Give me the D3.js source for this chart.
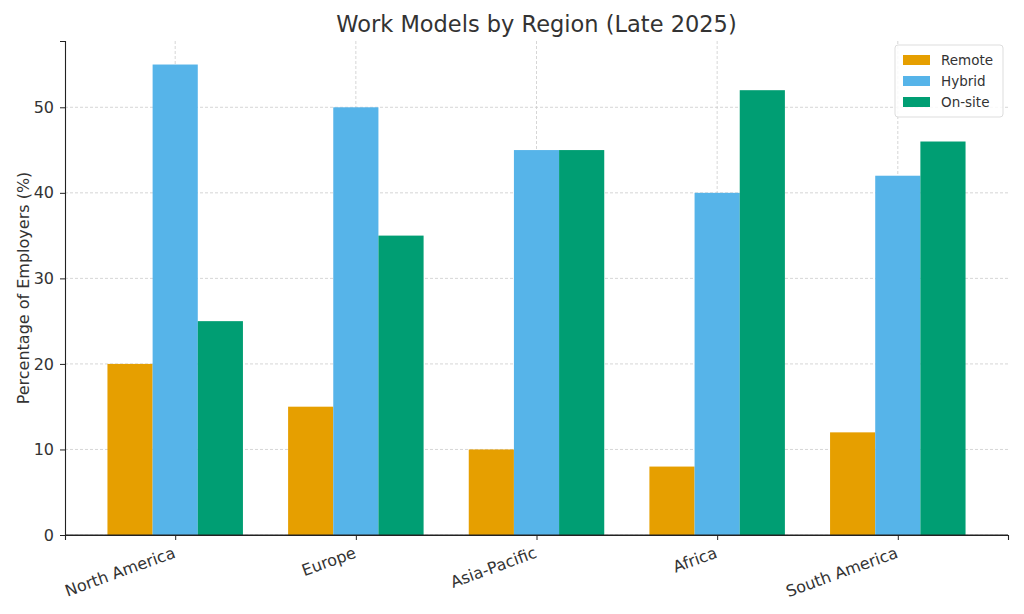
<!DOCTYPE html>
<html><head><meta charset="utf-8">
<script src="https://cdn.jsdelivr.net/npm/d3@7"></script>
<style>body{margin:0;background:#fff}text{font-family:"DejaVu Sans",sans-serif}</style>
</head><body><div id="vis"></div>
<script>
const regions = ["North America", "Europe", "Asia-Pacific", "Africa", "South America"];
const seriesNames = ["Remote", "Hybrid", "On-site"];
const remote = [20, 15, 10, 8, 12];
const hybrid = [55, 50, 45, 40, 42];
const onsite = [25, 35, 45, 52, 46];
const yTicks = [0, 10, 20, 30, 40, 50];
const colors = ["#e69f00", "#56b4e9", "#009e73"];
const values = [remote, hybrid, onsite];

const W = 1024, H = 614;
const M = {left: 65, right: 16, top: 41, bottom: 79};
const svg = d3.select("#vis").append("svg").attr("width", W).attr("height", H);

const x = d3.scaleLinear().domain([-0.61, 4.61]).range([M.left, W - M.right]);
const y = d3.scaleLinear().domain([0, 57.75]).range([H - M.bottom, M.top]);

// grid
svg.append("g").selectAll("line").data(yTicks).enter().append("line")
  .attr("x1", M.left).attr("x2", W - M.right)
  .attr("y1", d => y(d)).attr("y2", d => y(d))
  .attr("stroke", "#ccc").attr("stroke-dasharray", "3,2").attr("stroke-width", 0.8);
svg.append("g").selectAll("line").data(regions).enter().append("line")
  .attr("x1", (d, i) => x(i)).attr("x2", (d, i) => x(i))
  .attr("y1", M.top).attr("y2", H - M.bottom)
  .attr("stroke", "#ccc").attr("stroke-dasharray", "3,2").attr("stroke-width", 0.8);

// bars
const bw = 0.25;
values.forEach((vals, s) => {
  svg.append("g").selectAll("rect").data(vals).enter().append("rect")
    .attr("x", (d, i) => x(i + (s - 1) * bw - bw / 2))
    .attr("width", x(bw) - x(0))
    .attr("y", d => y(d))
    .attr("height", d => y(0) - y(d))
    .attr("fill", colors[s]);
});

// axes
const yAxis = svg.append("g").attr("transform", `translate(${M.left},0)`)
  .call(d3.axisLeft(y).tickValues(yTicks).tickSize(5).tickPadding(6));
const xAxis = svg.append("g").attr("transform", `translate(0,${H - M.bottom})`)
  .call(d3.axisBottom(x).tickValues(d3.range(regions.length)).tickFormat(i => regions[i]).tickSize(5));
[xAxis, yAxis].forEach(a => {
  a.select(".domain").attr("stroke", "#222").attr("stroke-width", 1.1);
  a.selectAll(".tick line").attr("stroke", "#222");
  a.selectAll("text").attr("font-size", 16).attr("fill", "#333").attr("font-family", "DejaVu Sans");
});
svg.append("line").attr("x1", M.left).attr("x2", W - M.right)
  .attr("y1", y(0)).attr("y2", y(0)).attr("stroke", "#222");
xAxis.selectAll("text").attr("text-anchor", "end")
  .attr("transform", "translate(-7,1) rotate(-20)").attr("dy", "0.9em");

svg.append("text").attr("x", (M.left + W - M.right) / 2).attr("y", 32)
  .attr("text-anchor", "middle").attr("font-size", 22.5).attr("fill", "#333")
  .text("Work Models by Region (Late 2025)");
svg.append("text").attr("transform", `translate(29,${(M.top + H - M.bottom) / 2}) rotate(-90)`)
  .attr("text-anchor", "middle").attr("font-size", 16).attr("fill", "#333")
  .text("Percentage of Employers (%)");

// legend
const lg = svg.append("g").attr("transform", "translate(895,45)");
lg.append("rect").attr("width", 108).attr("height", 72).attr("rx", 3)
  .attr("fill", "#fff").attr("fill-opacity", 0.85).attr("stroke", "#ddd");
seriesNames.forEach((n, i) => {
  lg.append("rect").attr("x", 8).attr("y", 10 + i * 21).attr("width", 27).attr("height", 10).attr("fill", colors[i]);
  lg.append("text").attr("x", 46).attr("y", 20 + i * 21).attr("font-size", 13.5).attr("fill", "#333").text(n);
});
</script></body></html>
